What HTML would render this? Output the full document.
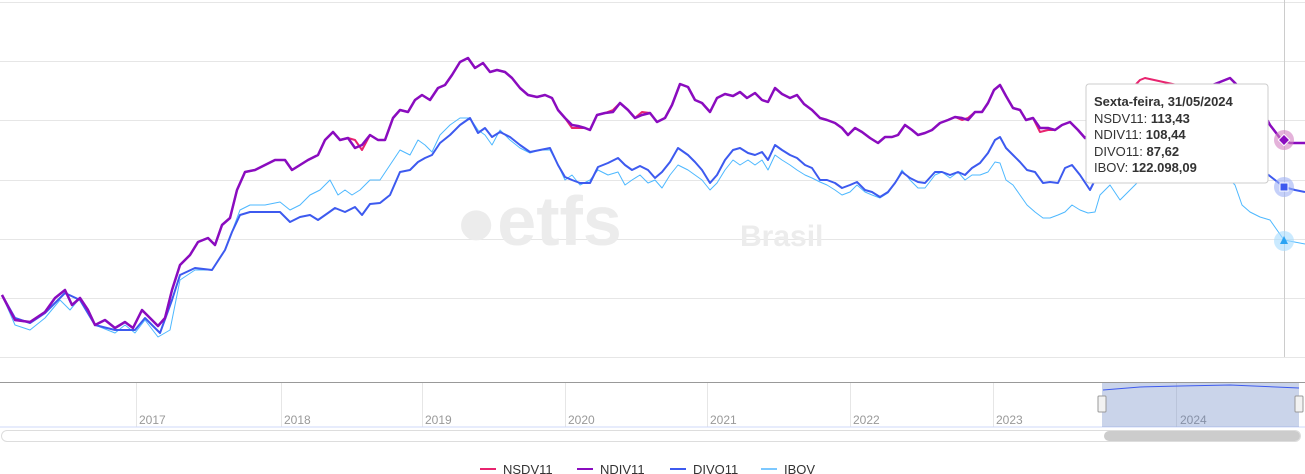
<!DOCTYPE html>
<html><head><meta charset="utf-8"><style>
body{margin:0;background:#fff;width:1305px;height:474px;overflow:hidden;font-family:"Liberation Sans",sans-serif}
</style></head><body>
<svg width="1305" height="474" xmlns="http://www.w3.org/2000/svg" style="position:absolute;left:0;top:0">
<g stroke="#e6e6e6" stroke-width="1">
<line x1="0" y1="2.5" x2="1305" y2="2.5"/><line x1="0" y1="61.5" x2="1305" y2="61.5"/><line x1="0" y1="120.5" x2="1305" y2="120.5"/><line x1="0" y1="180.5" x2="1305" y2="180.5"/><line x1="0" y1="239.5" x2="1305" y2="239.5"/><line x1="0" y1="298.5" x2="1305" y2="298.5"/><line x1="0" y1="357.5" x2="1305" y2="357.5"/>
</g>
<line x1="1284.5" y1="0" x2="1284.5" y2="357" stroke="#ccc"/>
<text x="455" y="245" font-size="70" font-weight="bold" fill="#ececec" font-family="Liberation Sans, sans-serif">●etfs</text>
<text x="740" y="246" font-size="30" font-weight="bold" fill="#ececec">Brasil</text>
<g fill="none" stroke-linejoin="round">
<polyline stroke="#4db8ff" stroke-width="1" points="2,295 15,325 30,330 45,318 60,300 70,310 80,298 95,325 115,333 125,325 135,333 145,320 158,337 170,330 180,280 195,270 212,270 225,250 240,210 250,205 265,205 280,202 290,210 300,205 310,195 320,190 330,180 338,195 345,190 352,195 360,190 370,180 380,180 390,165 400,150 410,155 418,140 425,145 432,152 440,135 450,125 460,118 470,118 478,130 485,135 492,145 500,130 510,140 520,148 530,153 540,150 550,150 558,165 565,180 572,175 580,185 590,180 598,170 608,175 618,172 625,185 632,180 640,175 648,183 655,180 662,188 670,175 678,165 688,170 695,175 702,180 710,190 717,183 725,170 733,160 740,165 748,160 755,165 762,160 768,170 775,155 782,160 790,165 797,170 805,175 812,178 820,182 827,185 835,190 842,195 850,192 857,185 865,192 872,195 880,198 888,193 895,183 902,170 910,180 918,188 925,188 935,175 942,172 950,178 958,172 965,180 972,175 980,175 988,172 995,162 1000,163 1006,180 1013,185 1020,195 1027,205 1035,212 1043,218 1050,218 1058,215 1065,212 1072,205 1080,210 1088,213 1095,212 1100,195 1110,185 1120,200 1140,180 1180,175 1220,170 1235,185 1242,205 1250,212 1260,217 1270,220 1284,240 1305,244"/>
<polyline stroke="#3d5aef" stroke-width="2" points="2,295 15,318 30,323 45,313 65,293 80,300 95,325 115,330 135,330 145,318 160,333 172,300 180,275 195,268 212,270 225,250 232,232 240,215 250,212 265,212 280,212 290,222 300,217 310,215 318,220 328,213 335,208 345,212 355,207 362,215 370,204 380,203 390,195 400,172 410,170 418,162 425,158 432,155 440,143 450,135 460,125 470,118 478,133 485,128 492,137 500,132 510,137 520,145 530,152 540,150 550,148 558,165 565,177 572,180 580,183 590,183 598,167 608,163 618,158 625,165 632,170 640,166 648,170 655,178 662,172 670,162 678,148 688,155 695,162 702,170 710,183 717,175 725,160 733,150 740,148 748,153 755,155 762,152 768,160 775,145 782,150 790,155 797,158 805,165 812,168 820,180 827,180 835,183 842,188 850,185 857,182 865,190 872,192 880,197 888,192 895,183 902,172 910,178 918,182 925,183 935,172 942,172 950,175 958,172 965,175 972,168 980,163 988,153 995,140 1000,137 1006,148 1013,155 1020,162 1027,170 1035,172 1043,183 1050,182 1058,183 1065,168 1072,165 1080,175 1090,190 1100,170 1140,160 1200,155 1240,160 1262,170 1275,180 1284,187 1295,190 1305,192"/>
<polyline stroke="#e8246f" stroke-width="2" points="2,295 15,320 30,322 45,312 55,298 65,290 72,305 80,298 88,310 95,325 105,320 115,328 125,322 133,328 142,310 152,320 158,326 165,318 172,290 180,265 190,255 198,242 208,238 215,245 222,225 230,218 237,190 245,172 255,170 265,165 275,160 285,160 292,170 300,165 308,160 318,155 325,140 333,132 340,140 348,138 355,140 362,150 370,135 378,140 385,140 393,118 400,110 408,112 415,100 422,95 430,100 438,88 445,85 452,75 460,62 468,58 475,68 483,63 490,72 497,70 505,72 512,78 520,88 528,95 537,97 545,95 552,98 558,110 565,118 572,128 578,128 585,128 590,130 597,115 605,113 613,110 620,103 628,110 635,118 642,112 650,113 657,122 665,118 672,105 680,84 688,87 695,100 702,103 710,112 717,98 725,94 733,96 740,92 747,98 755,93 762,100 768,102 775,88 782,94 790,98 797,95 804,104 812,110 820,118 827,120 835,123 842,128 848,135 855,128 862,132 870,138 878,143 885,137 892,137 898,135 905,125 912,130 918,135 925,133 932,130 940,123 948,120 955,117 962,120 968,118 975,112 982,112 988,103 994,90 1000,85 1006,96 1013,108 1020,110 1026,120 1033,118 1040,132 1048,130 1055,130 1062,125 1070,122 1078,130 1085,138 1140,80 1145,78 1200,90 1230,78 1262,110 1270,125 1280,138 1290,143 1305,143"/>
<polyline stroke="#8a0cbf" stroke-width="2.5" points="2,295 15,320 30,322 45,312 55,298 65,290 72,305 80,298 88,310 95,325 105,320 115,328 125,322 133,328 142,310 152,320 158,326 165,318 172,290 180,265 190,255 198,242 208,238 215,245 222,225 230,218 237,190 245,172 255,170 265,165 275,160 285,160 292,170 300,165 308,160 318,155 325,140 333,132 340,140 348,138 355,148 362,145 370,135 378,140 385,140 393,118 400,110 408,112 415,100 422,95 430,100 438,88 445,85 452,75 460,62 468,58 475,68 483,63 490,72 497,70 505,72 512,78 520,88 528,95 537,97 545,95 552,98 558,110 565,118 572,125 578,126 585,128 590,130 597,115 605,113 613,112 620,103 628,110 635,118 642,115 650,113 657,122 665,118 672,105 680,84 688,87 695,100 702,103 710,112 717,98 725,94 733,96 740,92 747,98 755,93 762,100 768,102 775,88 782,94 790,98 797,95 804,104 812,110 820,118 827,120 835,123 842,128 848,135 855,128 862,132 870,138 878,143 885,137 892,137 898,135 905,125 912,130 918,135 925,133 932,130 940,123 948,120 955,117 962,118 968,120 975,112 982,112 988,103 994,90 1000,85 1006,96 1013,108 1020,110 1026,120 1033,118 1040,128 1048,128 1055,130 1062,125 1070,122 1078,130 1085,138 1140,85 1200,90 1230,78 1262,110 1270,125 1280,138 1290,143 1305,143"/>
</g>
<circle cx="1284" cy="140" r="10" fill="#d27fc2" opacity="0.6"/>
<rect x="1280" y="136" width="8" height="8" fill="#8a0cbf" stroke="#fff" transform="rotate(45 1284 140)"/>
<circle cx="1284" cy="187" r="10" fill="#9fb0f5" opacity="0.6"/>
<rect x="1280" y="183" width="8" height="8" fill="#3d5aef" stroke="#fff"/>
<circle cx="1284" cy="241" r="10" fill="#a6dcff" opacity="0.6"/>
<polygon points="1284,236 1288,244 1280,244" fill="#2aa4f4"/>
<g filter="">
<rect x="1086" y="84" width="182" height="99" rx="3" fill="#fff" stroke="#ccc"/>
</g>
<g font-size="13" fill="#333" font-family="Liberation Sans, sans-serif">
<text x="1094" y="106" font-weight="bold">Sexta-feira, 31/05/2024</text>
<text x="1094" y="123">NSDV11: <tspan font-weight="bold">113,43</tspan></text>
<text x="1094" y="139">NDIV11: <tspan font-weight="bold">108,44</tspan></text>
<text x="1094" y="156">DIVO11: <tspan font-weight="bold">87,62</tspan></text>
<text x="1094" y="172">IBOV: <tspan font-weight="bold">122.098,09</tspan></text>
</g>
<line x1="0" y1="382.5" x2="1305" y2="382.5" stroke="#999"/>
<g stroke="#e6e6e6"><line x1="136.5" y1="383" x2="136.5" y2="427"/><line x1="281.5" y1="383" x2="281.5" y2="427"/><line x1="422.5" y1="383" x2="422.5" y2="427"/><line x1="565.5" y1="383" x2="565.5" y2="427"/><line x1="707.5" y1="383" x2="707.5" y2="427"/><line x1="850.5" y1="383" x2="850.5" y2="427"/><line x1="993.5" y1="383" x2="993.5" y2="427"/><line x1="1176.5" y1="383" x2="1176.5" y2="427"/></g>
<g font-size="12" fill="#999"><text x="139" y="424">2017</text><text x="284" y="424">2018</text><text x="425" y="424">2019</text><text x="568" y="424">2020</text><text x="710" y="424">2021</text><text x="853" y="424">2022</text><text x="996" y="424">2023</text><text x="1180" y="424">2024</text></g>
<line x1="0" y1="427" x2="1305" y2="427" stroke="#cfd8fa"/>
<rect x="1102" y="383" width="197" height="44" fill="#6685c2" opacity="0.35"/>
<polyline fill="none" stroke="#3d5aef" stroke-width="1" points="1103,390 1140,387 1180,386 1230,385 1299,388"/>
<rect x="1098" y="396" width="8" height="16" rx="1" fill="#f2f2f2" stroke="#999"/>
<rect x="1295" y="396" width="8" height="16" rx="1" fill="#f2f2f2" stroke="#999"/>
<rect x="1.5" y="430.5" width="1299" height="11" rx="5.5" fill="#fff" stroke="#ddd"/>
<rect x="1104" y="431" width="196" height="10" rx="5" fill="#ccc"/>
<g font-size="13" fill="#333">
<line x1="480" y1="469" x2="496" y2="469" stroke="#e8246f" stroke-width="2"/><text x="503" y="474">NSDV11</text>
<line x1="577" y1="469" x2="593" y2="469" stroke="#8a0cbf" stroke-width="2"/><text x="600" y="474">NDIV11</text>
<line x1="670" y1="469" x2="686" y2="469" stroke="#3d5aef" stroke-width="2"/><text x="693" y="474">DIVO11</text>
<line x1="761" y1="469" x2="777" y2="469" stroke="#7cc8ff" stroke-width="2"/><text x="784" y="474">IBOV</text>
</g>
</svg>
</body></html>
